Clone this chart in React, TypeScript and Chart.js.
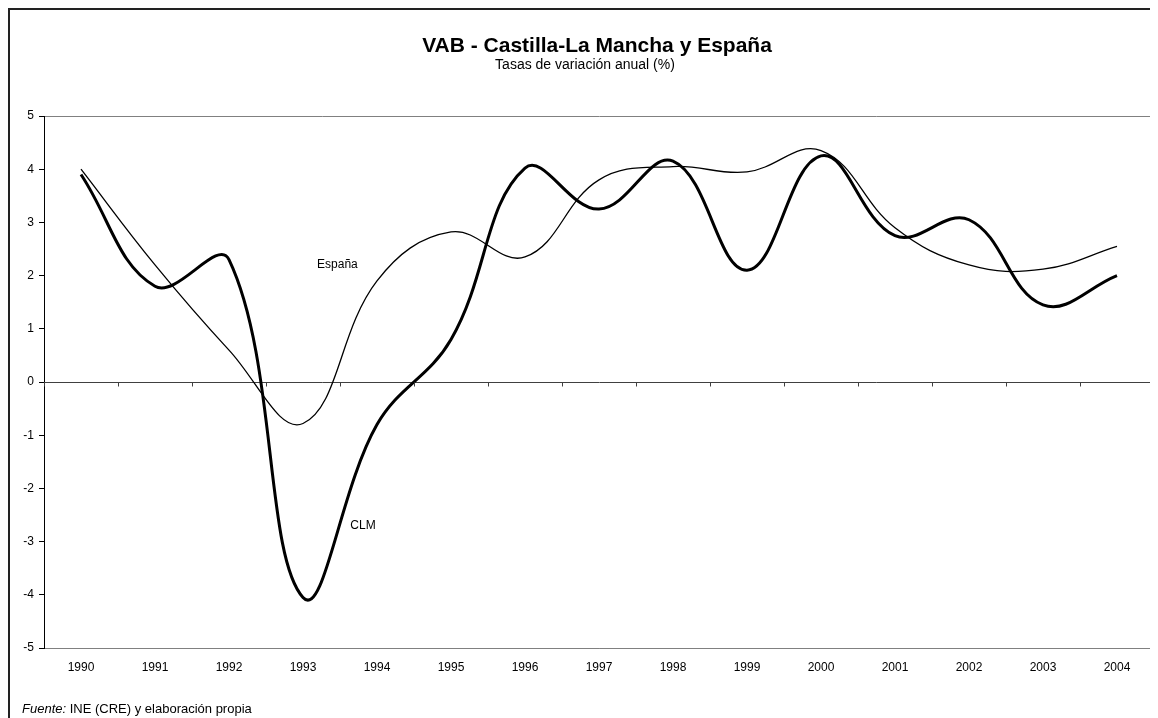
import React, { useEffect, useRef } from "react";
import { Chart, registerables } from "chart.js";

Chart.register(...registerables);

const years = ["1990", "1991", "1992", "1993", "1994", "1995", "1996", "1997", "1998", "1999", "2000", "2001", "2002", "2003", "2004"];
const clm = [3.9, 1.8, 2.3, -4.05, -0.8, 0.8, 4.02, 3.25, 4.15, 2.1, 4.25, 2.75, 3.05, 1.45, 2.0];
const espana = [4.0, 2.2, 0.6, -0.78, 1.9, 2.82, 2.35, 3.8, 4.05, 3.95, 4.35, 2.9, 2.2, 2.12, 2.55];
const yMin = -5;
const yMax = 5;

const FONT = '"Liberation Sans", Arial, Helvetica, sans-serif';

const framePlugin = {
  id: "framePlugin",
  afterDraw(chart: any) {
    const { ctx, chartArea, scales } = chart;
    const x = scales.x;
    const y = scales.y;
    ctx.save();
    ctx.strokeStyle = "#808080";
    ctx.lineWidth = 1;
    ctx.beginPath();
    ctx.moveTo(Math.round(chartArea.right) - 0.5, chartArea.top);
    ctx.lineTo(Math.round(chartArea.right) - 0.5, chartArea.bottom);
    ctx.stroke();
    const y0 = Math.round(y.getPixelForValue(0)) + 0.5;
    ctx.strokeStyle = "#404040";
    ctx.beginPath();
    for (let i = 0; i <= years.length; i++) {
      const px = Math.round(x.getPixelForValue(i - 0.5)) + 0.5;
      ctx.moveTo(px, y0);
      ctx.lineTo(px, y0 + 4);
    }
    ctx.stroke();
    ctx.fillStyle = "#000";
    ctx.font = "12px " + FONT;
    ctx.textAlign = "left";
    ctx.textBaseline = "middle";
    ctx.fillText("España", x.getPixelForValue(3.19), y.getPixelForValue(2.2));
    ctx.fillText("CLM", x.getPixelForValue(3.64), y.getPixelForValue(-2.7));
    ctx.restore();
  },
};

export default function App() {
  const ref = useRef<HTMLCanvasElement | null>(null);

  useEffect(() => {
    if (!ref.current) return;
    const chart = new Chart(ref.current, {
      type: "line",
      data: {
        labels: years,
        datasets: [
          {
            label: "España",
            data: espana,
            borderColor: "#000",
            borderWidth: 1.3,
            pointRadius: 0,
            tension: 0.4,
            fill: false,
          },
          {
            label: "CLM",
            data: clm,
            borderColor: "#000",
            borderWidth: 3,
            pointRadius: 0,
            tension: 0.4,
            fill: false,
          },
        ],
      },
      options: {
        responsive: false,
        animation: false,
        layout: { padding: { top: 108, right: 4, left: 0, bottom: 0 } },
        plugins: {
          legend: { display: false },
          title: { display: false },
          tooltip: { enabled: false },
        },
        scales: {
          x: {
            type: "category",
            offset: true,
            grid: { display: false, drawTicks: false },
            border: { display: true, color: "#808080", width: 1 },
            ticks: {
              color: "#000",
              font: { family: FONT, size: 12 },
              padding: 12,
              maxRotation: 0,
              autoSkip: false,
            },
            afterFit(scale: any) {
              scale.height = 70;
            },
          },
          y: {
            min: yMin,
            max: yMax,
            ticks: {
              stepSize: 1,
              color: "#000",
              font: { family: FONT, size: 12 },
              padding: 5,
            },
            grid: {
              drawTicks: true,
              tickLength: 5,
              tickColor: "#000",
              color: (c: any) => {
                const v = c.tick ? c.tick.value : null;
                if (v === 0) return "#404040";
                if (v === 5 || v === -5) return "#808080";
                return "rgba(0,0,0,0)";
              },
            },
            border: { display: true, color: "#000", width: 1 },
            afterFit(scale: any) {
              scale.width = 36;
            },
          },
        },
      },
      plugins: [framePlugin],
    });
    return () => chart.destroy();
  }, []);

  return (
    <div
      style={{
        position: "relative",
        width: 1150,
        height: 710,
        overflow: "hidden",
        fontFamily: FONT,
        color: "#000",
        background: "#fff",
      }}
    >
      <div
        style={{
          position: "absolute",
          left: 0,
          top: 0,
          width: 1180,
          height: 740,
          border: "2px solid #222",
          boxSizing: "border-box",
        }}
      />
      <canvas
        ref={ref}
        width={1150}
        height={710}
        style={{ position: "absolute", left: 0, top: 0, width: 1150, height: 710 }}
      />
      <div
        style={{
          position: "absolute",
          left: 0,
          top: 25,
          width: 1178,
          textAlign: "center",
          fontWeight: "bold",
          fontSize: 21,
          lineHeight: "24px",
          whiteSpace: "nowrap",
        }}
      >
        VAB - Castilla-La Mancha y España
      </div>
      <div
        style={{
          position: "absolute",
          left: 0,
          top: 48,
          width: 1154,
          textAlign: "center",
          fontSize: 14,
          lineHeight: "16px",
          whiteSpace: "nowrap",
        }}
      >
        Tasas de variación anual (%)
      </div>
      <div
        style={{
          position: "absolute",
          left: 14,
          top: 693,
          fontSize: 13,
          lineHeight: "15px",
          whiteSpace: "nowrap",
        }}
      >
        <i>Fuente:</i> INE (CRE) y elaboración propia
      </div>
    </div>
  );
}
